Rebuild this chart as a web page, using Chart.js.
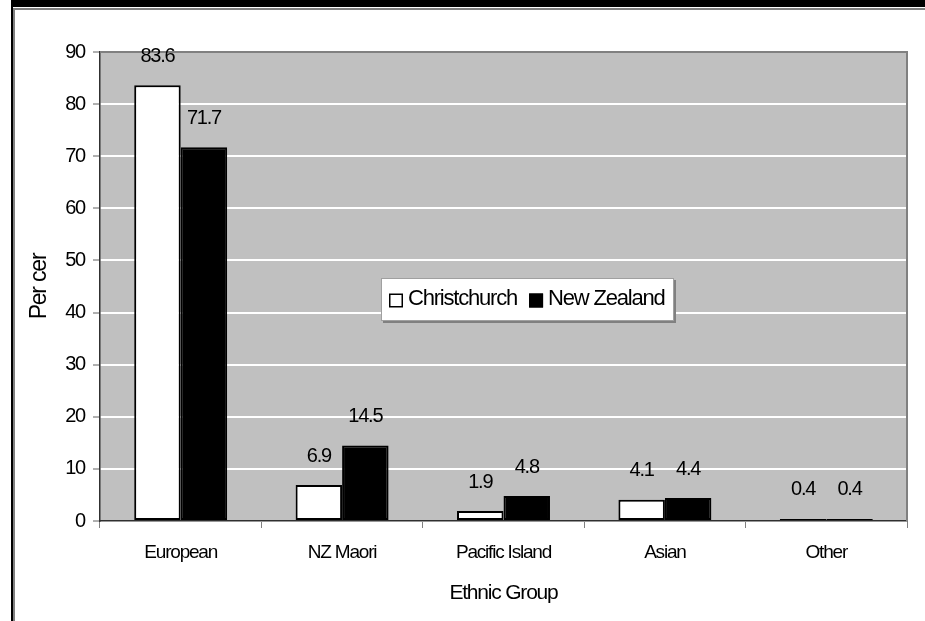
<!DOCTYPE html>
<html>
<head>
<meta charset="utf-8">
<script src="https://cdn.jsdelivr.net/npm/chart.js@4/dist/chart.umd.min.js"></script>
<style>
  html, body { margin: 0; padding: 0; background: #fff; }
  canvas { display: block; }
</style>
</head>
<body>
<canvas id="ethnic-canvas" width="925" height="621"></canvas>
<script>
var categories = ['European', 'NZ Maori', 'Pacific Island', 'Asian', 'Other'];
var christchurch = [83.6, 6.9, 1.9, 4.1, 0.4];
var newZealand = [71.7, 14.5, 4.8, 4.4, 0.4];
var seriesNames = ['Christchurch', 'New Zealand'];
var yMin = 0, yMax = 90, yStep = 10;

var FONT = 'Arial, "Liberation Sans", sans-serif';

// tight spacing like the old excel export
var tightText = {
    id: 'tightText',
    beforeUpdate: function(chart) { chart.ctx.letterSpacing = '-1.2px'; },
    beforeDraw: function(chart) { chart.ctx.letterSpacing = '-1.2px'; }
};

// white page, black frame top/left, grey plot area
var backdrop = {
    id: 'backdrop',
    beforeDraw: function(chart) {
        var ctx = chart.ctx, a = chart.chartArea;
        ctx.save();
        ctx.fillStyle = '#fff';
        ctx.fillRect(0, 0, chart.width, chart.height);
        ctx.fillStyle = '#000';
        ctx.fillRect(11, 0, chart.width - 11, 7);
        ctx.fillRect(11, 0, 2, chart.height);
        ctx.fillStyle = '#808080';
        ctx.fillRect(13, 8, chart.width - 13, 2);
        ctx.fillRect(13, 8, 2, chart.height - 8);
        ctx.fillStyle = '#c0c0c0';
        ctx.fillRect(a.left, a.top, a.right - a.left, a.bottom - a.top);
        ctx.restore();
    },
    afterDatasetsDraw: function(chart) {
        var ctx = chart.ctx, a = chart.chartArea;
        ctx.save();
        ctx.strokeStyle = '#808080';
        ctx.lineWidth = 2;
        ctx.beginPath();
        ctx.moveTo(a.left, a.top);
        ctx.lineTo(a.right, a.top);
        ctx.lineTo(a.right, a.bottom);
        ctx.stroke();
        ctx.restore();
    }
};

// value labels above each bar
var valueLabels = {
    id: 'valueLabels',
    afterDatasetsDraw: function(chart) {
        var ctx = chart.ctx;
        ctx.save();
        ctx.font = '20px ' + FONT;
        ctx.fillStyle = '#000';
        ctx.textAlign = 'center';
        ctx.textBaseline = 'middle';
        chart.data.datasets.forEach(function(ds, i) {
            chart.getDatasetMeta(i).data.forEach(function(bar, j) {
                ctx.fillText(ds.data[j].toFixed(1), bar.x, bar.y - 29);
            });
        });
        ctx.restore();
    }
};

// boxed legend floating in the middle of the plot
var boxLegend = {
    id: 'boxLegend',
    afterDraw: function(chart) {
        var ctx = chart.ctx, a = chart.chartArea;
        var x = a.left + 281, y = a.top + 226, w = 293, h = 43;
        ctx.save();
        ctx.fillStyle = '#808080';
        ctx.fillRect(x + 2, y + 2, w, h);
        ctx.fillStyle = '#fff';
        ctx.fillRect(x, y, w, h);
        ctx.strokeStyle = '#a0a0a0';
        ctx.lineWidth = 1;
        ctx.strokeRect(x + 0.5, y + 0.5, w - 1, h - 1);
        ctx.font = '22px ' + FONT;
        ctx.textBaseline = 'middle';
        ctx.textAlign = 'left';
        var cx = x + 8, cy = y + h / 2 + 1;
        chart.data.datasets.forEach(function(ds) {
            ctx.fillStyle = ds.backgroundColor;
            ctx.fillRect(cx, cy - 7, 14, 14);
            ctx.strokeStyle = '#000';
            ctx.lineWidth = 1.5;
            ctx.strokeRect(cx + 0.75, cy - 6.25, 12.5, 12.5);
            ctx.fillStyle = '#000';
            ctx.fillText(ds.label, cx + 19, cy - 2);
            cx += 19 + ctx.measureText(ds.label).width + 12;
        });
        ctx.restore();
    }
};

var ctx = document.getElementById('ethnic-canvas').getContext('2d');
window.ethnicChart = new Chart(ctx, {
    type: 'bar',
    data: {
        labels: categories,
        datasets: [
            {
                label: seriesNames[0],
                data: christchurch,
                backgroundColor: '#ffffff',
                borderColor: '#000000',
                borderWidth: 2,
                borderSkipped: false,
                categoryPercentage: 0.576,
                barPercentage: 1.0
            },
            {
                label: seriesNames[1],
                data: newZealand,
                backgroundColor: '#000000',
                borderColor: '#000000',
                borderWidth: 2,
                borderSkipped: false,
                categoryPercentage: 0.576,
                barPercentage: 1.0
            }
        ]
    },
    options: {
        responsive: false,
        devicePixelRatio: 1,
        animation: false,
        layout: { padding: { left: 0, top: 52, right: 18, bottom: 0 } },
        plugins: {
            legend: { display: false },
            title: { display: false },
            tooltip: { enabled: false }
        },
        scales: {
            x: {
                grid: {
                    offset: true,
                    drawOnChartArea: false,
                    drawTicks: true,
                    tickLength: 7,
                    color: '#808080'
                },
                border: { color: '#303030', width: 1.5 },
                ticks: {
                    color: '#000',
                    padding: 13,
                    maxRotation: 0,
                    font: { family: FONT, size: 19 }
                },
                title: {
                    display: true,
                    text: 'Ethnic Group',
                    color: '#000',
                    padding: { top: 0, bottom: 15 },
                    font: { family: FONT, size: 21 }
                },
                afterFit: function(scale) { scale.height = 100; }
            },
            y: {
                min: yMin,
                max: yMax,
                ticks: {
                    stepSize: yStep,
                    color: '#000',
                    padding: 8,
                    font: { family: FONT, size: 20 }
                },
                grid: {
                    color: '#ffffff',
                    lineWidth: 2,
                    tickLength: 7,
                    tickColor: '#606060',
                    tickWidth: 1
                },
                border: { color: '#303030', width: 1.5 },
                title: {
                    display: true,
                    text: 'Per cer',
                    color: '#000',
                    padding: { top: 26, bottom: 0 },
                    font: { family: FONT, size: 23 }
                },
                afterFit: function(scale) { scale.width = 100; }
            }
        }
    },
    plugins: [tightText, backdrop, valueLabels, boxLegend]
});
</script>
</body>
</html>
